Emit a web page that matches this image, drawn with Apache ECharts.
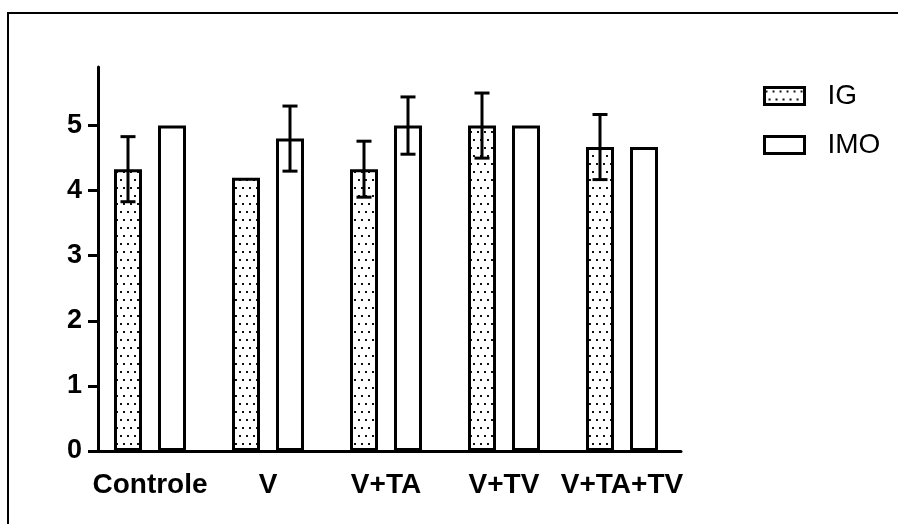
<!DOCTYPE html>
<html>
<head>
<meta charset="utf-8">
<script src="https://cdn.jsdelivr.net/npm/echarts@6/dist/echarts.min.js"></script>
<style>
  html, body { margin: 0; padding: 0; background: #fff; }
  #chart { width: 898px; height: 524px; }
</style>
</head>
<body>
<div id="chart"></div>
<script>
// Groups on the x axis
const categories = ['Controle', 'V', 'V+TA', 'V+TV', 'V+TA+TV'];
// Mean values per group
const igValues  = [4.33, 4.2, 4.33, 5.0, 4.67];
const imoValues = [5.0, 4.8, 5.0, 5.0, 4.67];
// Error (SD) per group; 0 means no bar drawn
const igErrors  = [0.5, 0, 0.43, 0.5, 0.5];
const imoErrors = [0, 0.5, 0.44, 0, 0];
// Y axis tick values
const yTicks = [0, 1, 2, 3, 4, 5];

const FONT = '"Liberation Sans", Arial, Helvetica, sans-serif';
const BAR_W = 28;
const BAR_GAP_PX = 16;
const HALF_STEP = (BAR_W + BAR_GAP_PX) / 2;

// Dotted fill for the IG bars
function makeDots() {
  const c = document.createElement('canvas');
  c.width = 7; c.height = 16;
  const ctx = c.getContext('2d');
  ctx.fillStyle = '#fff';
  ctx.fillRect(0, 0, 7, 16);
  ctx.fillStyle = '#111';
  ctx.fillRect(1, 3, 2, 2);
  ctx.fillRect(4, 11, 2, 2);
  return c;
}
const dotPattern = { image: makeDots(), repeat: 'repeat' };

function errorItems(values, errors) {
  return values.map((v, i) => [i, v, errors[i]]);
}

function errorBarRenderer(sign) {
  return function (params, api) {
    const err = api.value(2);
    if (!err) return null;
    const idx = api.value(0);
    const mean = api.value(1);
    const top = api.coord([idx, mean + err]);
    const bot = api.coord([idx, mean - err]);
    const x = top[0] + sign * HALF_STEP;
    const capHalf = 7.5;
    const style = { stroke: '#000', lineWidth: 3 };
    return {
      type: 'group',
      children: [
        { type: 'line', shape: { x1: x, y1: top[1], x2: x, y2: bot[1] }, style },
        { type: 'line', shape: { x1: x - capHalf, y1: top[1], x2: x + capHalf, y2: top[1] }, style },
        { type: 'line', shape: { x1: x - capHalf, y1: bot[1], x2: x + capHalf, y2: bot[1] }, style }
      ]
    };
  };
}

const chart = echarts.init(document.getElementById('chart'), null, { renderer: 'canvas' });

chart.setOption({
  animation: false,
  backgroundColor: '#fff',
  textStyle: { fontFamily: FONT },
  graphic: [
    { type: 'polyline', shape: { points: [[8, 524], [8, 13], [898, 13]] },
      style: { stroke: '#000', lineWidth: 2, fill: null } }
  ],
  grid: { left: 91, right: 217, top: 67, bottom: 73 },
  legend: {
    orient: 'vertical',
    left: 763,
    top: 82,
    padding: 0,
    itemWidth: 40,
    itemHeight: 17,
    itemGap: 21,
    textStyle: { fontFamily: FONT, fontSize: 28, color: '#000', padding: [0, 0, 0, 18] },
    data: [
      { name: 'IG', icon: 'rect', itemStyle: { color: dotPattern, borderColor: '#000', borderWidth: 3 } },
      { name: 'IMO', icon: 'rect', itemStyle: { color: '#fff', borderColor: '#000', borderWidth: 3 } }
    ]
  },
  xAxis: {
    type: 'category',
    data: categories,
    axisLine: { lineStyle: { color: '#000', width: 3 } },
    axisTick: { alignWithLabel: true, length: 10, lineStyle: { color: '#000', width: 3 } },
    axisLabel: { color: '#000', fontSize: 28, fontWeight: 'bold', fontFamily: FONT, margin: 20, interval: 0 },
    splitLine: { show: false }
  },
  yAxis: {
    type: 'value',
    min: 0,
    max: 5.9,
    interval: 1,
    offset: -7,
    axisLine: { show: true, lineStyle: { color: '#000', width: 3 } },
    axisTick: { show: true, length: 10, lineStyle: { color: '#000', width: 3 }, customValues: yTicks },
    axisLabel: { color: '#000', fontSize: 27, fontWeight: 'bold', fontFamily: FONT, margin: 16, customValues: yTicks },
    splitLine: { show: false }
  },
  series: [
    {
      name: 'IG',
      type: 'bar',
      data: igValues,
      barWidth: BAR_W,
      barGap: (BAR_GAP_PX / BAR_W * 100) + '%',
      itemStyle: { color: dotPattern, borderColor: '#000', borderWidth: 3 },
      z: 2
    },
    {
      name: 'IMO',
      type: 'bar',
      data: imoValues,
      barWidth: BAR_W,
      itemStyle: { color: '#fff', borderColor: '#000', borderWidth: 3 },
      z: 2
    },
    {
      name: 'IG err',
      type: 'custom',
      renderItem: errorBarRenderer(-1),
      data: errorItems(igValues, igErrors),
      encode: { x: 0, y: 1 },
      z: 5,
      silent: true
    },
    {
      name: 'IMO err',
      type: 'custom',
      renderItem: errorBarRenderer(1),
      data: errorItems(imoValues, imoErrors),
      encode: { x: 0, y: 1 },
      z: 5,
      silent: true
    }
  ]
});
</script>
</body>
</html>
